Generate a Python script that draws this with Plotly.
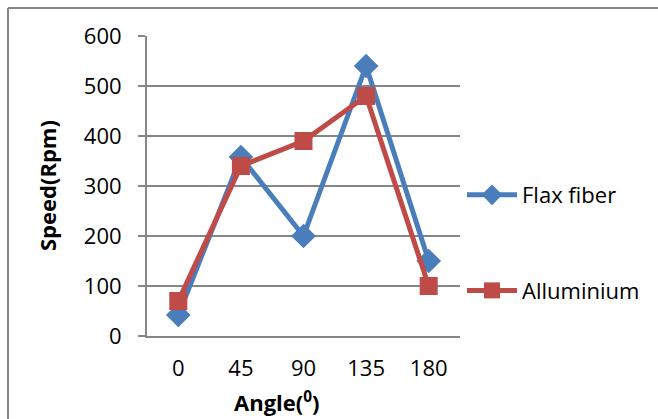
import plotly.graph_objects as go

angles = ["0", "45", "90", "135", "180"]
flax_fiber = [42, 358, 200, 540, 150]
alluminium = [70, 340, 390, 480, 100]
y_ticks = [0, 100, 200, 300, 400, 500, 600]

FONT = "Open Sans"
GRID = "#868686"
FS = 22

fig = go.Figure()
fig.add_trace(go.Scatter(
    x=list(range(len(angles))), y=flax_fiber, name="Flax fiber",
    mode="lines+markers", legendgroup="a",
    line=dict(color="#4A7EBB", width=5),
    marker=dict(symbol="diamond", size=19, color="#4A7EBB"),
))
fig.add_trace(go.Scatter(
    x=list(range(len(angles))), y=alluminium, name="Alluminium",
    mode="lines+markers", legendgroup="b",
    line=dict(color="#BE4B48", width=5),
    marker=dict(symbol="square", size=18, color="#BE4B48"),
))

L, R, T, B = 147, 198, 36, 83
W, H = 658, 419
pw, ph = W - L - R, H - T - B

def px_x(p):
    return (p - L) / pw

def px_y(p):
    return (H - B - p) / ph

fig.update_layout(
    width=W, height=H,
    margin=dict(l=L, r=R, t=T, b=B),
    paper_bgcolor="white", plot_bgcolor="white",
    font=dict(family=FONT, size=FS, color="black"),
    xaxis=dict(
        range=[-0.5, len(angles) - 0.5],
        tickmode="array", tickvals=list(range(len(angles))), ticktext=angles,
        showgrid=False, zeroline=False,
        showline=True, linecolor=GRID, linewidth=2,
        ticks="", ticklen=0, ticklabelstandoff=12,
        tickfont=dict(family=FONT, size=FS),
        fixedrange=True,
    ),
    yaxis=dict(
        range=[0, 600], tickvals=y_ticks,
        showgrid=True, gridcolor=GRID, gridwidth=2,
        zeroline=False,
        showline=True, linecolor=GRID, linewidth=2,
        ticks="outside", ticklen=7, tickcolor=GRID, tickwidth=2,
        ticklabelstandoff=12,
        tickfont=dict(family=FONT, size=FS),
        fixedrange=True,
    ),
    showlegend=True,
    legend=dict(
        x=px_x(462), y=px_y(174), xanchor="left", yanchor="top",
        traceorder="grouped", tracegroupgap=64,
        font=dict(family=FONT, size=FS),
        bgcolor="rgba(0,0,0,0)", itemwidth=50,
    ),
    annotations=[
        dict(text="<b>Speed(Rpm)</b>", textangle=-90,
             x=px_x(47), y=px_y(186), xref="paper", yref="paper",
             xanchor="center", yanchor="middle", showarrow=False,
             font=dict(family=FONT, size=FS)),
        dict(text="<b>Angle(<sup>0</sup>)</b>",
             x=px_x(277), y=px_y(401), xref="paper", yref="paper",
             xanchor="center", yanchor="middle", showarrow=False,
             font=dict(family=FONT, size=FS)),
    ],
    shapes=[
        dict(type="line", xref="paper", yref="paper",
             x0=px_x(8), x1=px_x(W + 5), y0=px_y(8), y1=px_y(8),
             line=dict(color=GRID, width=2)),
        dict(type="line", xref="paper", yref="paper",
             x0=px_x(8), x1=px_x(8), y0=px_y(8), y1=px_y(H + 5),
             line=dict(color=GRID, width=2)),
    ],
)

fig.write_html("out.html")
